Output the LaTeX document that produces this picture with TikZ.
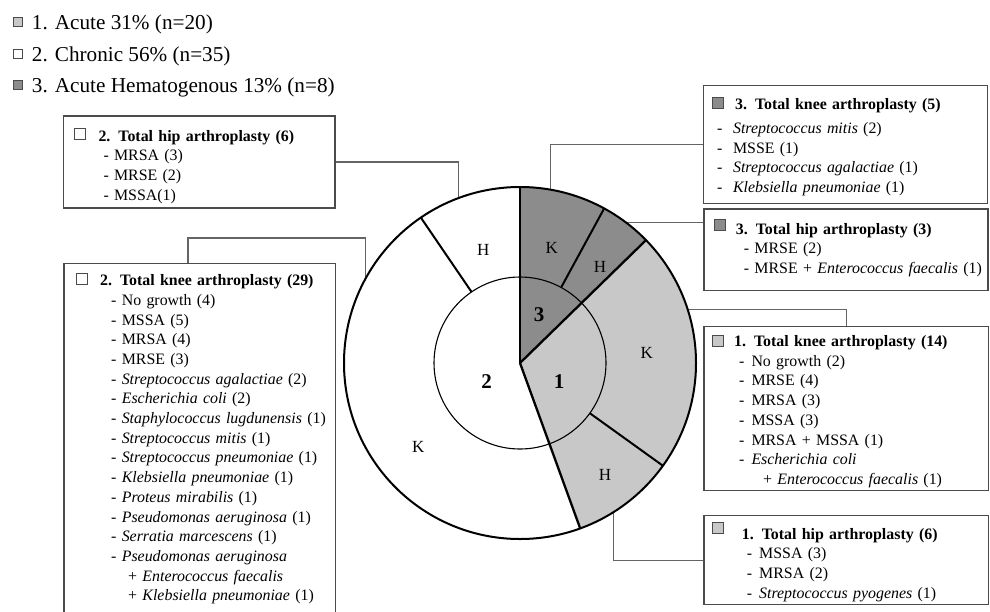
\documentclass[tikz,border=0pt]{standalone}
\usepackage{fontspec}
\setmainfont{Liberation Serif}
\usetikzlibrary{calc,positioning}
\definecolor{acutegray}{RGB}{200,200,200}
\definecolor{hemagray}{RGB}{140,140,140}
\definecolor{boxgray}{RGB}{75,75,75}
\definecolor{leadgray}{RGB}{100,100,100}

\begin{document}
\begin{tikzpicture}[x=1pt,y=1pt,
    callout/.style={draw=boxgray,line width=1.3pt,inner sep=0pt,anchor=north west},
    lead/.style={leadgray,line width=1.3pt},
    swatch/.style={draw=boxgray,line width=0.9pt,fill=#1,minimum size=11pt,inner sep=0pt},
    body/.style={inner sep=0pt,anchor=north west,text width=270pt,align=left,
      font=\fontsize{15.9}{19.7}\selectfont},
    legend/.style={inner sep=0pt,anchor=base west,font=\fontsize{21.2}{25}\selectfont},
    ring/.style={font=\fontsize{17}{20}\selectfont},
    core/.style={font=\fontsize{21}{25}\selectfont\bfseries}]
  \useasboundingbox (0,0) rectangle (990,-611);

  % legend
  \node[legend] (lg1) at (31.7,-29.3) {1. Acute 31\% (n=20)};
  \node[legend] (lg2) at (31.7,-61) {2. Chronic 56\% (n=35)};
  \node[legend] (lg3) at (31.7,-92) {3. Acute Hematogenous 13\% (n=8)};
  \node[swatch=acutegray,minimum size=9pt] (sw1) at (17.7,-21.7) {};
  \node[swatch=white,minimum size=9pt] (sw2) at (17.7,-53.5) {};
  \node[swatch=hemagray,minimum size=9pt] (sw3) at (17.7,-84.5) {};

  % callout boxes
  \node[callout,minimum width=271.5pt,minimum height=92pt] (hip2) at (62.7,-115.3) {};
  \node[swatch=white] (sq2h) at ([shift={(17.3,-19)}]hip2.north west) {};
  \node[body] (txt2h) at ([shift={(35.6,-12)}]hip2.north west)
    {\strut\textbf{2. Total hip arthroplasty (6)}\\
     \hspace*{5pt}- MRSA (3)\\
     \hspace*{5pt}- MRSE (2)\\
     \hspace*{5pt}- MSSA(1)};

  \node[callout,minimum width=271.8pt,minimum height=380pt] (knee2) at (63.3,-262.7) {};
  \node[swatch=white] (sq2k) at ([shift={(18.9,-16.5)}]knee2.north west) {};
  \node[body] (txt2k) at ([shift={(36.7,-9)}]knee2.north west)
    {\strut\textbf{2. Total knee arthroplasty (29)}\\
     \hspace*{11pt}- No growth (4)\\
     \hspace*{11pt}- MSSA (5)\\
     \hspace*{11pt}- MRSA (4)\\
     \hspace*{11pt}- MRSE (3)\\
     \hspace*{11pt}- \textit{Streptococcus agalactiae} (2)\\
     \hspace*{11pt}- \textit{Escherichia coli} (2)\\
     \hspace*{11pt}- \textit{Staphylococcus lugdunensis} (1)\\
     \hspace*{11pt}- \textit{Streptococcus mitis} (1)\\
     \hspace*{11pt}- \textit{Streptococcus pneumoniae} (1)\\
     \hspace*{11pt}- \textit{Klebsiella pneumoniae} (1)\\
     \hspace*{11pt}- \textit{Proteus mirabilis} (1)\\
     \hspace*{11pt}- \textit{Pseudomonas aeruginosa} (1)\\
     \hspace*{11pt}- \textit{Serratia marcescens} (1)\\
     \hspace*{11pt}- \textit{Pseudomonas aeruginosa}\\
     \hspace*{28pt}+ \textit{Enterococcus faecalis}\\
     \hspace*{28pt}+ \textit{Klebsiella pneumoniae} (1)};

  \node[callout,minimum width=284.3pt,minimum height=117.7pt] (knee3) at (702.7,-85) {};
  \node[swatch=hemagray] (sq3k) at ([shift={(14.8,-18)}]knee3.north west) {};
  \node[body] (txt3k) at ([shift={(14.3,-10.2)}]knee3.north west)
    {\strut\hspace*{18pt}\textbf{3. Total knee arthroplasty (5)}\\[4.5pt]
     -\hspace{10.6pt}\textit{Streptococcus mitis} (2)\\
     -\hspace{10.6pt}MSSE (1)\\
     -\hspace{10.6pt}\textit{Streptococcus agalactiae} (1)\\
     -\hspace{10.6pt}\textit{Klebsiella pneumoniae} (1)};

  \node[callout,minimum width=284pt,minimum height=81.7pt] (hip3) at (703.3,-208.3) {};
  \node[swatch=hemagray] (sq3h) at ([shift={(16.7,-17)}]hip3.north west) {};
  \node[body] (txt3h) at ([shift={(32.4,-11.9)}]hip3.north west)
    {\strut\textbf{3. Total hip arthroplasty (3)}\\
     \hspace*{8pt}- MRSE (2)\\
     \hspace*{8pt}- MRSE + \textit{Enterococcus faecalis} (1)};

  \node[callout,minimum width=284.7pt,minimum height=164pt] (knee1) at (703.3,-326) {};
  \node[swatch=acutegray] (sq1k) at ([shift={(14.2,-15.3)}]knee1.north west) {};
  \node[body] (txt1k) at ([shift={(30.7,-6.6)}]knee1.north west)
    {\strut\textbf{1. Total knee arthroplasty (14)}\\
     \hspace*{5pt}-\hspace{7pt}No growth (2)\\
     \hspace*{5pt}-\hspace{7pt}MRSE (4)\\
     \hspace*{5pt}-\hspace{7pt}MRSA (3)\\
     \hspace*{5pt}-\hspace{7pt}MSSA (3)\\
     \hspace*{5pt}-\hspace{7pt}MRSA + MSSA (1)\\
     \hspace*{5pt}-\hspace{7pt}\textit{Escherichia coli}\\
     \hspace*{29pt}+ \textit{Enterococcus faecalis} (1)};

  \node[callout,minimum width=284.7pt,minimum height=89pt] (hip1) at (703.3,-515) {};
  \node[swatch=acutegray] (sq1h) at ([shift={(15,-13)}]hip1.north west) {};
  \node[body] (txt1h) at ([shift={(38.4,-10.2)}]hip1.north west)
    {\strut\textbf{1. Total hip arthroplasty (6)}\\
     \hspace*{5pt}-\hspace{7pt}MSSA (3)\\
     \hspace*{5pt}-\hspace{7pt}MRSA (2)\\
     \hspace*{5pt}-\hspace{7pt}\textit{Streptococcus pyogenes} (1)};

  % where the leads meet the pie
  \coordinate (ctr) at (520,-363);
  \coordinate (pA) at ($(ctr)+(110.5:176)$);
  \coordinate (pB) at ($(ctr)+(151.5:176)$);
  \coordinate (pC) at ($(ctr)+(79.96:176)$);
  \coordinate (pD) at ($(ctr)+(52.85:176)$);
  \coordinate (pE) at ($(ctr)+(17.76:176)$);
  \coordinate (pF) at ($(ctr)+(-57.98:176)$);

  \draw[lead] (hip2.east) -| (pA);
  \draw[lead] ([xshift=124.7pt]knee2.north west) |- ([yshift=41pt]pB) -- (pB);
  \draw[lead] (knee3.west) -| (pC);
  \draw[lead] (pD) -- (pD -| hip3.west);
  \draw[lead] (knee1.north) |- (pE);
  \draw[lead] (hip1.west) -| (pF);

  % pie
  \begin{scope}[shift={(ctr)}]
    \pgfmathsetmacro{\rout}{176}
    \pgfmathsetmacro{\rin}{86}
    \fill[white] (0,0) circle[radius=\rout];
    \fill[hemagray] (0,0) -- (90:\rout)
      arc[start angle=90,end angle=44.286,radius=\rout] -- cycle;
    \fill[acutegray] (0,0) -- (44.286:\rout)
      arc[start angle=44.286,end angle=-70,radius=\rout] -- cycle;
    \draw[line width=1.1pt] (0,0) circle[radius=\rin];
    \foreach \ang in {61.429,-35.714,124.286}
      \draw[line width=2pt] (\ang:\rin) -- (\ang:\rout);
    \foreach \ang in {90,44.286,-70}
      \draw[line width=2.3pt] (0,0) -- (\ang:\rout);
    \draw[line width=2pt] (0,0) circle[radius=\rout];
    \node[ring] (k3) at (31.7,114.7) {K};
    \node[ring] (h3) at (80,96.3) {H};
    \node[ring] (k1) at (126.7,9.7) {K};
    \node[ring] (h1) at (85,-112) {H};
    \node[ring] (k2) at (-101.7,-83.7) {K};
    \node[ring] (h2) at (-36.7,113) {H};
    \node[core] (g3) at (19,48) {3};
    \node[core] (g1) at (39,-18.7) {1};
    \node[core] (g2) at (-33.3,-18.7) {2};
  \end{scope}
\end{tikzpicture}
\end{document}
